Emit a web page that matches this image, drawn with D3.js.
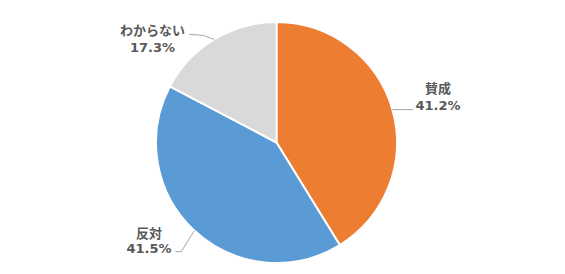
<!DOCTYPE html>
<html><head><meta charset="utf-8">
<script src="https://cdn.jsdelivr.net/npm/d3@7"></script>
<style>html,body{margin:0;padding:0;background:#fff;}</style>
</head><body>
<svg id="c" width="565" height="274"></svg>
<script>
const categories = ["賛成", "反対", "わからない"];
const values = [41.2, 41.5, 17.3];
const colors = ["#ED7D31", "#5B9BD5", "#D9D9D9"];

const svg = d3.select("#c");
const cx = 276.5, cy = 142.5, r = 120.5;
const g = svg.append("g").attr("transform", `translate(${cx},${cy})`);
const pie = d3.pie().sort(null).value(d => d.v);
const data = pie(categories.map((c, i) => ({c, v: values[i], col: colors[i]})));
const arc = d3.arc().innerRadius(0).outerRadius(r);
g.selectAll("path.s").data(data).join("path")
  .attr("class", "s").attr("d", arc)
  .attr("fill", d => d.data.col)
  .attr("stroke", "#fff").attr("stroke-width", 2).attr("stroke-linejoin", "round");

// label layout: offsets relative to edge point at mid-angle
const layout = [
  {bend: [21, 0], end: [21, 0], tx: 438, ty1: 93, ty2: 110},
  {bend: [-13, 21], end: [-19, 21], tx: 149, ty1: 238, ty2: 253},
  {bend: [-11, -4], end: [-25, -5], tx: 152.5, ty1: 35, ty2: 52}
];
const cjk = "'Noto Sans CJK JP', 'Noto Sans', sans-serif";
const num = "'DejaVu Sans', 'Noto Sans', sans-serif";
data.forEach((d, i) => {
  const a = (d.startAngle + d.endAngle) / 2;
  const ex = cx + r * Math.sin(a), ey = cy - r * Math.cos(a);
  const L = layout[i];
  svg.append("polyline")
    .attr("points", [[ex, ey], [ex + L.bend[0], ey + L.bend[1]], [ex + L.end[0], ey + L.end[1]]].map(p => p.join(",")).join(" "))
    .attr("fill", "none").attr("stroke", "#A6A6A6").attr("stroke-width", 1);
  svg.append("text").attr("text-anchor", "middle")
    .attr("x", L.tx).attr("y", L.ty1)
    .attr("font-family", cjk).attr("font-size", 13).attr("font-weight", "bold").attr("fill", "#595959")
    .text(d.data.c);
  svg.append("text").attr("text-anchor", "middle")
    .attr("x", L.tx).attr("y", L.ty2)
    .attr("font-family", num).attr("font-size", 13).attr("font-weight", "bold").attr("fill", "#595959")
    .text(d3.format(".1f")(d.data.v) + "%");
});
</script>
</body></html>
